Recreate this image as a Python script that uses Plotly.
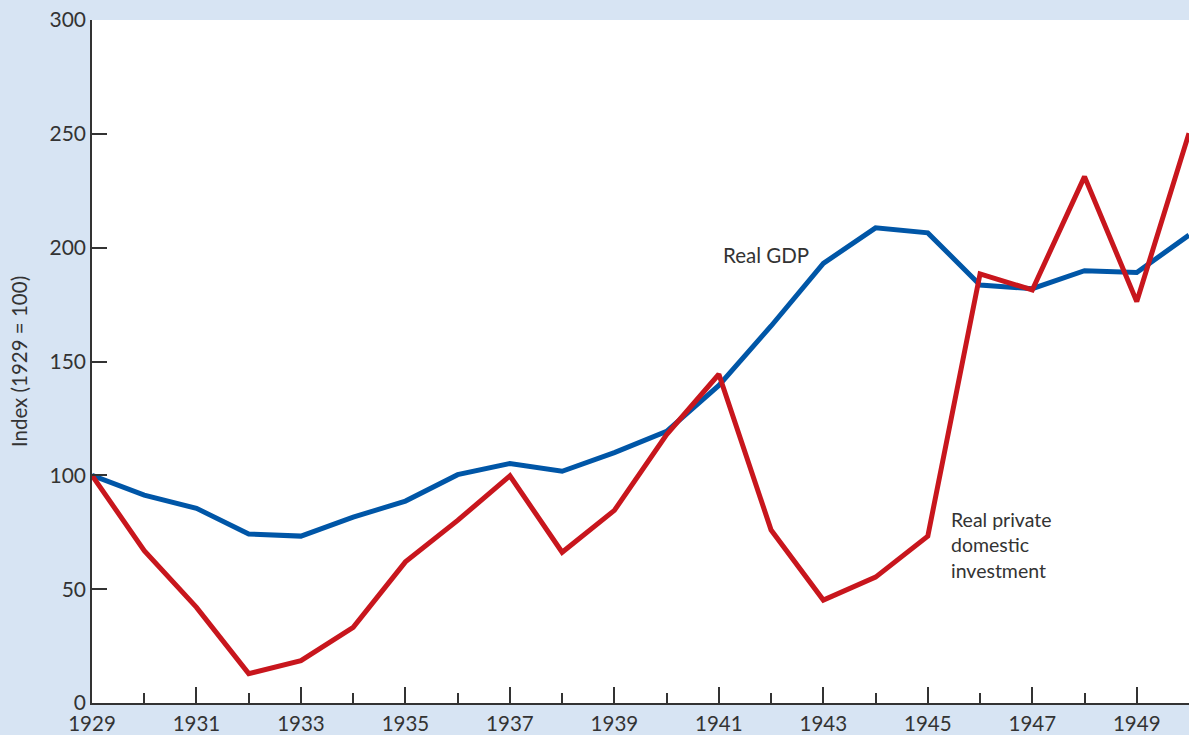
import plotly.graph_objects as go

years = list(range(1929, 1951))
real_gdp = [100, 91.3, 85.5, 74.2, 73.3, 81.6, 88.7, 100.3, 105.2, 101.8, 110.0, 119.3,
            139.5, 165.6, 193.1, 208.7, 206.5, 183.6, 182.0, 189.9, 189.1, 205.5]
real_investment = [100, 66.9, 42.0, 12.9, 18.6, 33.2, 62.0, 80.2, 99.8, 66.2, 84.6, 117.9,
                   144.4, 76.0, 45.2, 55.3, 73.3, 188.5, 181.4, 231.2, 176.3, 250.3]
tick_years = list(range(1929, 1951, 2))

BG = "#d7e4f3"
TXT = "#333333"
FONT = "Lato, Open Sans, sans-serif"

fig = go.Figure()
fig.add_trace(go.Scatter(x=years, y=real_gdp, mode="lines", name="Real GDP",
                         line=dict(color="#0056a7", width=5), showlegend=False))
fig.add_trace(go.Scatter(x=years, y=real_investment, mode="lines",
                         name="Real private domestic investment",
                         line=dict(color="#c8161d", width=5), showlegend=False))

fig.add_annotation(x=1941.04, y=196.8, text="Real GDP", showarrow=False,
                   xanchor="left", yanchor="middle",
                   font=dict(family=FONT, size=20.5, color=TXT))
fig.add_annotation(x=1945.41, y=69.5, text="Real private<br>domestic<br>investment",
                   showarrow=False, xanchor="left", yanchor="middle", align="left",
                   font=dict(family=FONT, size=19.5, color=TXT))

fig.update_layout(
    width=1189, height=735,
    paper_bgcolor=BG, plot_bgcolor="white",
    margin=dict(l=92, r=0, t=20, b=32),
    font=dict(family=FONT, size=21, color=TXT),
    xaxis=dict(range=[1929, 1950], tickvals=tick_years, ticktext=[str(y) for y in tick_years],
               ticks="inside", ticklen=16, tickwidth=1.5, tickcolor=TXT,
               minor=dict(dtick=1, tick0=1929, ticks="inside", ticklen=10, tickwidth=1.5,
                          tickcolor=TXT, showgrid=False),
               showline=True, linecolor=TXT, linewidth=1.5, showgrid=False, zeroline=False,
               ticklabelstandoff=2,
               tickfont=dict(family=FONT, size=20.5, color=TXT)),
    yaxis=dict(range=[0, 300], tickvals=[0, 50, 100, 150, 200, 250, 300],
               ticks="inside", ticklen=15, tickwidth=1.5, tickcolor=TXT,
               showline=True, linecolor=TXT, linewidth=1.5, showgrid=False, zeroline=False,
               title=dict(text="Index (1929 = 100)", standoff=16,
                          font=dict(family=FONT, size=20.5, color=TXT)),
               tickfont=dict(family=FONT, size=21, color=TXT)),
)

fig.write_html("out.html", config={"displayModeBar": False},
               post_script="document.body.style.margin='0';document.body.style.overflow='hidden';")
